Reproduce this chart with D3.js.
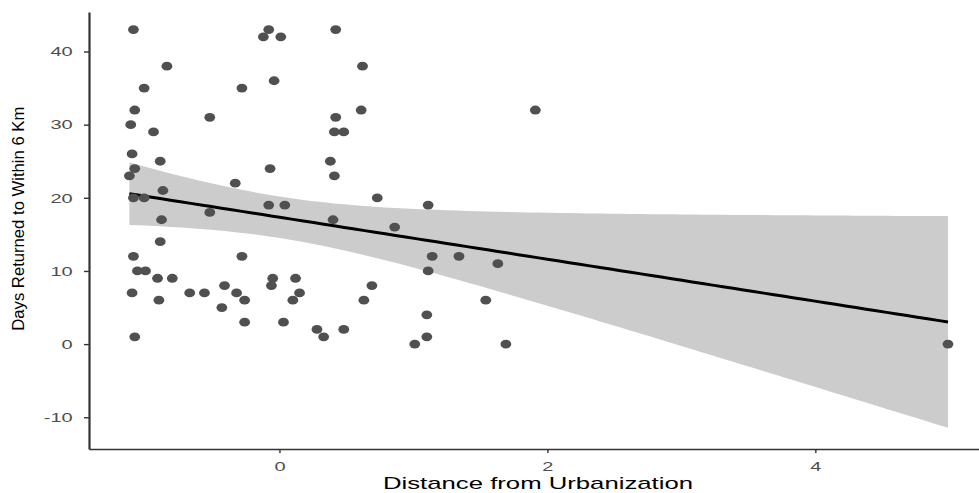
<!DOCTYPE html>
<html>
<head>
<meta charset="utf-8">
<script src="https://cdn.jsdelivr.net/npm/d3@7"></script>
<style>
  body { margin: 0; background: #fff; }
  text { font-family: "Liberation Sans", Arial, sans-serif; }
</style>
</head>
<body>
<div id="chart"></div>
<script>
// distance from urbanization (x) and days returned to within 6 km (y)
var distance = [
  -1.09, -0.12, 0.01, -0.08, 0.42, -0.84, 0.62, -1.01, -0.28, -0.04,
  -1.08, 0.61, 1.91, -1.11, -0.52, 0.42, -0.94, 0.41, 0.48, -1.10,
  -0.89, 0.38, -1.08, -0.07, -1.12, 0.41, -0.33, -0.87, -1.09, -1.01,
  0.73, -0.08, 0.04, 1.11, -0.52, -0.88, 0.40, 0.86, -0.89, -1.09,
  -0.28, 1.14, 1.34, 1.63, -1.06, -1.00, 1.11, -0.91, -0.80, -0.05,
  0.12, -0.41, -0.06, 0.69, -1.10, -0.67, -0.56, -0.32, 0.15, -0.90,
  -0.26, 0.10, 0.63, 1.54, -0.43, 1.10, -0.26, 0.03, 0.28, 0.48,
  -1.08, 0.33, 1.10, 1.01, 1.69, 4.99
];
var days = [
  43, 42, 42, 43, 43, 38, 38, 35, 35, 36,
  32, 32, 32, 30, 31, 31, 29, 29, 29, 26,
  25, 25, 24, 24, 23, 23, 22, 21, 20, 20,
  20, 19, 19, 19, 18, 17, 17, 16, 14, 12,
  12, 12, 12, 11, 10, 10, 10, 9, 9, 9,
  9, 8, 8, 8, 7, 7, 7, 7, 7, 6,
  6, 6, 6, 6, 5, 4, 3, 3, 2, 2,
  1, 1, 1, 0, 0, 0
];
var xTicks = [0, 2, 4];
var yTicks = [-10, 0, 10, 20, 30, 40];

var svgWidth = 979;
var svgHeight = 493;

var svg = d3.select("#chart")
  .append("svg")
  .attr("width", svgWidth)
  .attr("height", svgHeight);

var xScale = d3.scaleLinear()
  .domain([-1.4216, 5.2216])
  .range([89, 979]);

var yScale = d3.scaleLinear()
  .domain([-14.34, 45.4])
  .range([449, 12]);

var points = distance.map(function(d, i) { return {x: d, y: days[i]}; });

// linear model with 95% confidence band (like geom_smooth(method = "lm"))
var n = points.length;
var xbar = d3.mean(points, d => d.x);
var ybar = d3.mean(points, d => d.y);
var sxx = d3.sum(points, d => (d.x - xbar) * (d.x - xbar));
var sxy = d3.sum(points, d => (d.x - xbar) * (d.y - ybar));
var slope = sxy / sxx;
var intercept = ybar - slope * xbar;
var sse = d3.sum(points, d => Math.pow(d.y - (intercept + slope * d.x), 2));
var s = Math.sqrt(sse / (n - 2));
var tCrit = 1.993;

var xMin = d3.min(distance);
var xMax = d3.max(distance);
var fit = d3.range(0, 81).map(function(i) {
  var x0 = xMin + (xMax - xMin) * i / 80;
  var yhat = intercept + slope * x0;
  var se = s * Math.sqrt(1 / n + (x0 - xbar) * (x0 - xbar) / sxx);
  return {x: x0, y: yhat, lo: yhat - tCrit * se, hi: yhat + tCrit * se};
});

// ribbon
svg.append("path")
  .datum(fit)
  .attr("fill", "#cccccc")
  .attr("d", d3.area()
    .x(d => xScale(d.x))
    .y0(d => yScale(d.lo))
    .y1(d => yScale(d.hi)));

// fitted line
svg.append("path")
  .datum(fit)
  .attr("fill", "none")
  .attr("stroke", "#000")
  .attr("stroke-width", 3)
  .attr("d", d3.line()
    .x(d => xScale(d.x))
    .y(d => yScale(d.y)));

// points
svg.append("g")
  .selectAll("ellipse")
  .data(points)
  .enter()
  .append("ellipse")
  .attr("cx", d => xScale(d.x))
  .attr("cy", d => yScale(d.y))
  .attr("rx", 5.4)
  .attr("ry", 4.4)
  .attr("fill", "#505050");

// axes
var stretch = 1.48;

var xAxis = svg.append("g")
  .attr("transform", "translate(0, 449)")
  .call(d3.axisBottom(xScale).tickValues(xTicks).tickFormat(d => String(d))
    .tickSize(4).tickSizeOuter(0).tickPadding(8.7));

var yAxis = svg.append("g")
  .attr("transform", "translate(89, 0)")
  .call(d3.axisLeft(yScale).tickValues(yTicks).tickFormat(d => String(d))
    .tickSize(5).tickSizeOuter(0));

xAxis.select(".domain").attr("stroke", "#333").attr("stroke-width", 1.6);
yAxis.select(".domain").attr("stroke", "#333").attr("stroke-width", 2.2);
svg.selectAll(".tick line").attr("stroke", "#333").attr("stroke-width", 1.4);

svg.selectAll(".tick text")
  .attr("fill", "#4d4d4d")
  .attr("font-size", "13.5px")
  .attr("font-family", "Liberation Sans, Arial, sans-serif")
  .attr("transform", `scale(${stretch}, 1)`);

yAxis.selectAll(".tick text").attr("x", -16.3 / stretch);

// axis titles
svg.append("text")
  .attr("x", 538)
  .attr("y", 489)
  .attr("text-anchor", "middle")
  .attr("font-size", "17px")
  .attr("textLength", 310)
  .attr("lengthAdjust", "spacingAndGlyphs")
  .attr("fill", "#000")
  .text("Distance from Urbanization");

svg.append("text")
  .attr("transform", "translate(24.3, 218.7) rotate(-90)")
  .attr("text-anchor", "middle")
  .attr("font-size", "16.5px")
  .attr("textLength", 224)
  .attr("lengthAdjust", "spacingAndGlyphs")
  .attr("fill", "#000")
  .text("Days Returned to Within 6 Km");
</script>
</body>
</html>
